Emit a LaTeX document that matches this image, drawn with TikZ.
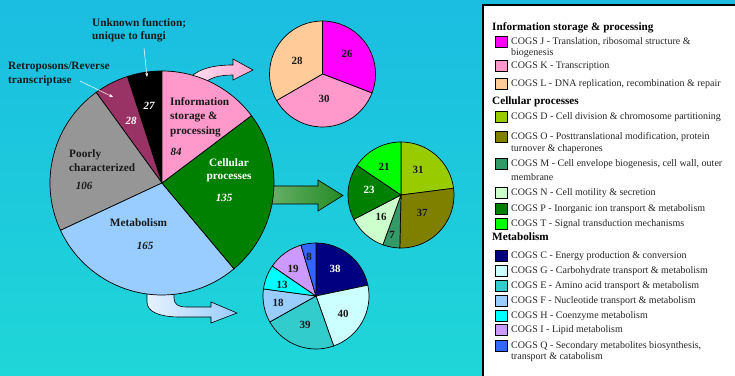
\documentclass[tikz,border=0pt]{standalone}
\usepackage{fontspec}
\setmainfont{Liberation Serif}
\usetikzlibrary{arrows.meta}
\definecolor{bgtop}{HTML}{1BBDE1}
\definecolor{bgbot}{HTML}{1FD6D8}
\definecolor{cInfo}{HTML}{FF99CC}
\definecolor{cCell}{HTML}{008000}
\definecolor{cMeta}{HTML}{99CCFF}
\definecolor{cPoor}{HTML}{969696}
\definecolor{cRetro}{HTML}{993366}
\definecolor{cUnk}{HTML}{000000}
\definecolor{cJ}{HTML}{FF00FF}
\definecolor{cK}{HTML}{FF99CC}
\definecolor{cL}{HTML}{FFCC99}
\definecolor{cD}{HTML}{99CC00}
\definecolor{cO}{HTML}{808000}
\definecolor{cM}{HTML}{339966}
\definecolor{cN}{HTML}{CCFFCC}
\definecolor{cP}{HTML}{008000}
\definecolor{cT}{HTML}{00FF00}
\definecolor{cC}{HTML}{000080}
\definecolor{cG}{HTML}{CCFFFF}
\definecolor{cE}{HTML}{33CCCC}
\definecolor{cF}{HTML}{99CCFF}
\definecolor{cH}{HTML}{00FFFF}
\definecolor{cI}{HTML}{CC99FF}
\definecolor{cQ}{HTML}{3366FF}
\definecolor{pinkL}{HTML}{FFE4F1}
\definecolor{pinkR}{HTML}{FFA6D2}
\definecolor{greenL}{HTML}{6CB36C}
\definecolor{greenR}{HTML}{248A24}
\definecolor{blueL}{HTML}{E6F2FF}
\definecolor{blueR}{HTML}{99CCFF}
\newcommand\pieslice[5]{\filldraw[fill=#1, pieline] (#2) -- ++(#3:#5) arc[start angle=#3, end angle=#4, radius=#5] -- cycle;}
\begin{document}
\begin{tikzpicture}[x=1pt,y=1pt,
  pieline/.style={draw=black, line width=0.7},
  lbl/.style={font=\fontsize{11.3}{13.4}\selectfont\bfseries, inner sep=0, align=left, anchor=west, text=black!90},
  num/.style={font=\fontsize{11}{13}\selectfont\bfseries\itshape, inner sep=0, text=black!90},
  snum/.style={font=\fontsize{11}{13}\selectfont\bfseries, inner sep=0, text=black!90},
  swatch/.style={draw=black, line width=0.8, minimum width=12, minimum height=11, inner sep=0},
  legtxt/.style={font=\fontsize{10}{11}\selectfont, inner sep=0, anchor=west, text height=7, text depth=2, text=black!85},
  leghead/.style={font=\fontsize{11.2}{12}\selectfont\bfseries, inner sep=0, anchor=west, text height=7.5, text depth=2},
  blockarrow/.style={draw=black, line width=0.6},
  pointer/.style={draw=white, line width=0.5, -{Stealth[length=4pt,width=3pt]}},
]
\useasboundingbox (0,0) rectangle (735,375);
\shade[top color=bgtop, bottom color=bgbot] (0,0) rectangle (735,375);

% block arrows (drawn before the big pie)
\shadedraw[left color=pinkL, right color=pinkR, blockarrow]
  (186,293) .. controls (195,305) and (210,310) .. (233,310) -- (233,316) -- (253,305)
  -- (233,295) -- (233,300) .. controls (218,300) and (207,297) .. (200,287) -- cycle;
\shadedraw[left color=greenL, right color=greenR, blockarrow]
  (265,189) -- (318,189) -- (318,195) -- (343,179.5) -- (318,164) -- (318,171) -- (265,171) -- cycle;
\shadedraw[left color=blueL, right color=blueR, blockarrow]
  (147,87) -- (147,73) .. controls (147,63) and (160,58) .. (180,58) -- (211,58) -- (211,52)
  -- (237,62) -- (211,73) -- (211,68) -- (186,68) .. controls (178,68) and (174,71) .. (174,77)
  -- (174,87) -- cycle;

% big pie
\coordinate (big) at (162,192);
\pieslice{cUnk}{big}{90}{108}{112}
\pieslice{cRetro}{big}{108}{126}{112}
\pieslice{cPoor}{big}{126}{205}{112}
\pieslice{cMeta}{big}{205}{310}{112}
\pieslice{cCell}{big}{310}{397}{112}
\pieslice{cInfo}{big}{37}{90}{112}

\node[lbl, font=\fontsize{11.3}{14.5}\selectfont\bfseries] (linfo) at (170,258) {Information\\storage \&\\processing};
\node[num] (ninfo) at (176,223) {84};
\node[lbl, align=center, anchor=center, text=white] (lcell) at (229,204.5) {Cellular\\processes};
\node[num, text=white] (ncell) at (224,177) {135};
\node[lbl, anchor=center] (lmeta) at (138.5,152) {Metabolism};
\node[num] (nmeta) at (145,129) {165};
\node[lbl] (lpoor) at (69,214.5) {Poorly\\characterized};
\node[num] (npoor) at (84,189) {106};
\node[num, text=white] (nretro) at (131,254) {28};
\node[num, text=white] (nunk) at (149,269) {27};
\node[lbl] (lunk) at (92,344.5) {Unknown function;\\unique to fungi};
\node[lbl] (lretro) at (8,301) {Retroposons/Reverse\\transcriptase};
\coordinate (u1) at (144,327);
\coordinate (u2) at (147,298);
\coordinate (r1) at (80,294);
\coordinate (r2) at (113,278);
\draw[pointer] (u1) -- (u2);
\draw[pointer] (r1) -- (r2);

% pie 1: information storage & processing
\coordinate (p1) at (322.5,301);
\pieslice{cJ}{p1}{-21}{90}{53}
\pieslice{cK}{p1}{-150}{-21}{53}
\pieslice{cL}{p1}{90}{210}{53}
\node[snum] (n26) at (347,321) {26};
\node[snum] (n30) at (324,276) {30};
\node[snum] (n28) at (297,314) {28};

% pie 2: cellular processes
\coordinate (p2) at (401,180);
\pieslice{cD}{p2}{7.3}{90}{53}
\pieslice{cO}{p2}{-91.3}{7.3}{53}
\pieslice{cM}{p2}{-110}{-91.3}{53}
\pieslice{cN}{p2}{-152.7}{-110}{53}
\pieslice{cP}{p2}{146}{207.3}{53}
\pieslice{cT}{p2}{90}{146}{53}
\node[snum] (n31) at (418,205) {31};
\node[snum] (n37) at (422,162) {37};
\node[snum] (n7) at (392,140) {7};
\node[snum] (n16) at (381,158) {16};
\node[snum, text=white] (n23) at (369,185) {23};
\node[snum] (n21) at (384,208) {21};

% pie 3: metabolism
\coordinate (p3) at (316,79);
\pieslice{cC}{p3}{11.8}{90}{53}
\pieslice{cG}{p3}{-70.5}{11.8}{53}
\pieslice{cE}{p3}{-150.7}{-70.5}{53}
\pieslice{cF}{p3}{172.3}{209.3}{53}
\pieslice{cH}{p3}{145.6}{172.3}{53}
\pieslice{cI}{p3}{106.5}{145.6}{53}
\pieslice{cQ}{p3}{90}{106.5}{53}
\node[snum, text=white] (n38) at (335,106) {38};
\node[snum] (n40) at (343,61) {40};
\node[snum] (n39) at (305,50) {39};
\node[snum] (n18) at (278,72) {18};
\node[snum] (n13) at (282,90) {13};
\node[snum] (n19) at (293,106) {19};
\node[snum] (n8) at (309,118) {8};

% legend
\draw[fill=white, line width=1.2] (483,-5) rectangle (740,370);
\node[leghead] (h1) at (492,347) {Information storage \& processing};
\node[swatch, fill=cJ] (sJ) at (501,333) {};
\node[legtxt] (tJ) at (511,333) {COGS J - Translation, ribosomal structure \&};
\node[legtxt] (tJb) at (511,322) {biogenesis};
\node[swatch, fill=cK] (sK) at (501,309) {};
\node[legtxt] (tK) at (511,309) {COGS K - Transcription};
\node[swatch, fill=cL] (sL) at (501,291) {};
\node[legtxt] (tL) at (511,291) {COGS L - DNA replication, recombination \& repair};
\node[leghead] (h2) at (492,273) {Cellular processes};
\node[swatch, fill=cD] (sD) at (501,258) {};
\node[legtxt] (tD) at (511,258) {COGS D - Cell division \& chromosome partitioning};
\node[swatch, fill=cO] (sO) at (501,238) {};
\node[legtxt] (tO) at (511,238) {COGS O - Posttranslational modification, protein};
\node[legtxt] (tOb) at (511,226) {turnover \& chaperones};
\node[swatch, fill=cM] (sM) at (501,211) {};
\node[legtxt] (tM) at (511,211) {COGS M - Cell envelope biogenesis, cell wall, outer};
\node[legtxt] (tMb) at (511,197) {membrane};
\node[swatch, fill=cN] (sN) at (501,182) {};
\node[legtxt] (tN) at (511,182) {COGS N - Cell motility \& secretion};
\node[swatch, fill=cP] (sP) at (501,166) {};
\node[legtxt] (tP) at (511,166) {COGS P - Inorganic ion transport \& metabolism};
\node[swatch, fill=cT] (sT) at (501,151) {};
\node[legtxt] (tT) at (511,151) {COGS T - Signal transduction mechanisms};
\node[leghead] (h3) at (492,137) {Metabolism};
\node[swatch, fill=cC] (sC) at (501,119) {};
\node[legtxt] (tC) at (511,119) {COGS C - Energy production \& conversion};
\node[swatch, fill=cG] (sG) at (501,104) {};
\node[legtxt] (tG) at (511,104) {COGS G - Carbohydrate transport \& metabolism};
\node[swatch, fill=cE] (sE) at (501,89) {};
\node[legtxt] (tE) at (511,89) {COGS E - Amino acid transport \& metabolism};
\node[swatch, fill=cF] (sF) at (501,74) {};
\node[legtxt] (tF) at (511,74) {COGS F - Nucleotide transport \& metabolism};
\node[swatch, fill=cH] (sH) at (501,59) {};
\node[legtxt] (tH) at (511,59) {COGS H - Coenzyme metabolism};
\node[swatch, fill=cI] (sI) at (501,45) {};
\node[legtxt] (tI) at (511,45) {COGS I - Lipid metabolism};
\node[swatch, fill=cQ] (sQ) at (501,29) {};
\node[legtxt] (tQ) at (511,29) {COGS Q - Secondary metabolites biosynthesis,};
\node[legtxt] (tQb) at (511,18) {transport \& catabolism};
\end{tikzpicture}
\end{document}
